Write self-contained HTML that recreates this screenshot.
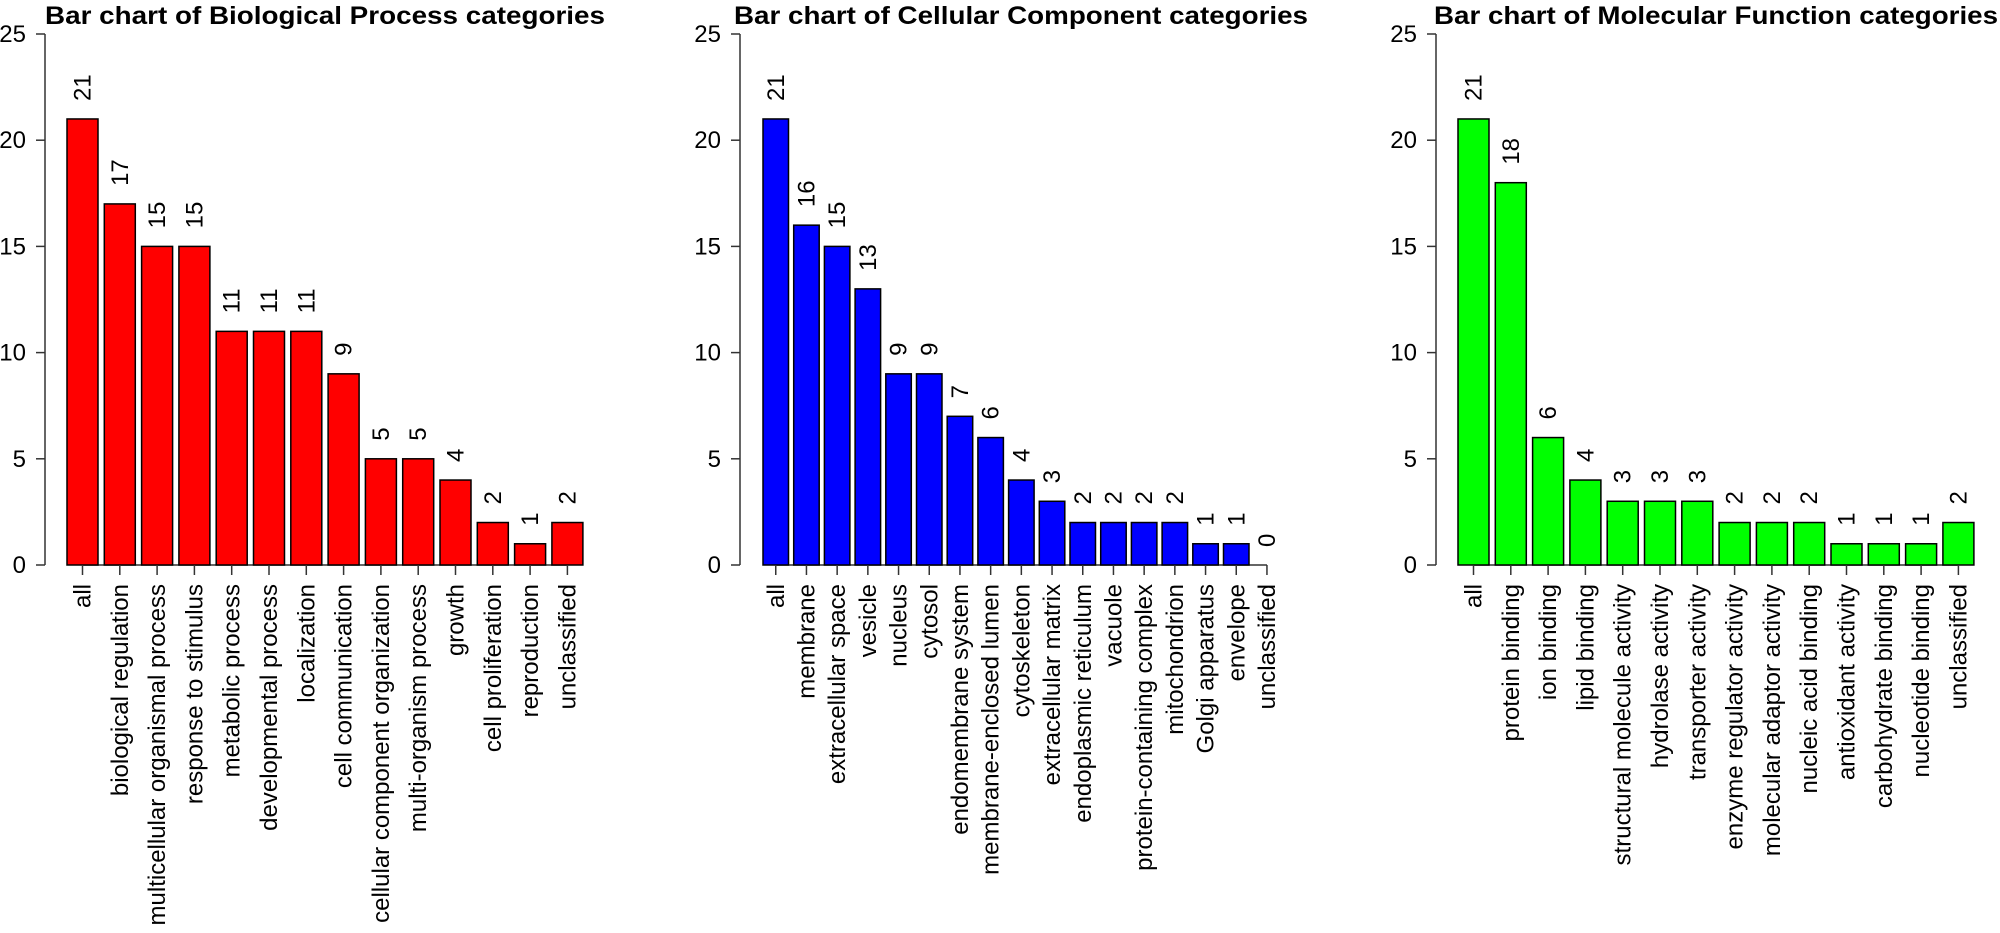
<!DOCTYPE html>
<html><head><meta charset="utf-8"><style>
html,body{margin:0;padding:0;background:#fff;}
svg{display:block;font-family:"Liberation Sans",Arial,sans-serif;}
</style></head><body>
<svg id="chart" width="2000" height="933" viewBox="0 0 2000 933" xmlns="http://www.w3.org/2000/svg"></svg>
<script>
const bpCategories = ["all","biological regulation","multicellular organismal process","response to stimulus","metabolic process","developmental process","localization","cell communication","cellular component organization","multi-organism process","growth","cell proliferation","reproduction","unclassified"];
const bpValues = [21,17,15,15,11,11,11,9,5,5,4,2,1,2];
const ccCategories = ["all","membrane","extracellular space","vesicle","nucleus","cytosol","endomembrane system","membrane-enclosed lumen","cytoskeleton","extracellular matrix","endoplasmic reticulum","vacuole","protein-containing complex","mitochondrion","Golgi apparatus","envelope","unclassified"];
const ccValues = [21,16,15,13,9,9,7,6,4,3,2,2,2,2,1,1,0];
const mfCategories = ["all","protein binding","ion binding","lipid binding","structural molecule activity","hydrolase activity","transporter activity","enzyme regulator activity","molecular adaptor activity","nucleic acid binding","antioxidant activity","carbohydrate binding","nucleotide binding","unclassified"];
const mfValues = [21,18,6,4,3,3,3,2,2,2,1,1,1,2];
const yTicks = [0,5,10,15,20,25];
const titles = ["Bar chart of Biological Process categories","Bar chart of Cellular Component categories","Bar chart of Molecular Function categories"];

const svg = document.getElementById('chart');
const NS = 'http://www.w3.org/2000/svg';
function mk(tag, attrs, parent){const e=document.createElementNS(NS,tag);for(const k in attrs)e.setAttribute(k,attrs[k]);(parent||svg).appendChild(e);return e;}

const Y0 = 565, YTOP = 34, YMAX = 25, FS = 24;
function yScale(v){return Y0 - (Y0-YTOP)*v/YMAX;}

const panels = [
  {name:'biological-process', cats:bpCategories, vals:bpValues, axisX:45, firstX:67, pitch:37.3, width:31, color:'#ff0000', titleX:325, titleW:560},
  {name:'cellular-component', cats:ccCategories, vals:ccValues, axisX:740, firstX:763, pitch:30.7, width:25.5, color:'#0000ff', titleX:1021, titleW:574},
  {name:'molecular-function', cats:mfCategories, vals:mfValues, axisX:1436, firstX:1458, pitch:37.3, width:31, color:'#00ff00', titleX:1716, titleW:564}
];

panels.forEach((p, pi) => {
  const g = mk('g', {});
  
  
  const t = mk('text', {x:p.titleX, y:24, 'text-anchor':'middle', 'font-size':25, 'font-weight':'bold', textLength:p.titleW, lengthAdjust:'spacingAndGlyphs', fill:'#000'}, g);
  t.textContent = titles[pi];
  
  
  const ax = mk('line', {x1:p.axisX, x2:p.axisX, y1:yScale(yTicks[yTicks.length-1]), y2:yScale(yTicks[0]), stroke:'#333', 'stroke-width':1.5}, g);
  
  
  yTicks.forEach(v => {
    const y = yScale(v);
    const tk = mk('line', {x1:p.axisX-9, x2:p.axisX, y1:y, y2:y, stroke:'#333', 'stroke-width':1.5}, g);
    
    
    const tl = mk('text', {x:p.axisX-19, y:y+8, 'text-anchor':'end', 'font-size':FS, fill:'#000'}, g);
    tl.textContent = v;
    
    
  });
  const c0 = p.firstX + p.width/2, cN = p.firstX + (p.cats.length-1)*p.pitch + p.width/2;
  const xl = mk('line', {x1:c0, x2:cN, y1:Y0, y2:Y0, stroke:'#333', 'stroke-width':1.5}, g);
  
  
  p.cats.forEach((c, i) => {
    const x = p.firstX + i*p.pitch, v = p.vals[i], cx = x + p.width/2;
    const yTop = yScale(v);
    const b = mk('rect', {x:x, y:yTop, width:p.width, height:Y0-yTop, fill:p.color, stroke:'#000', 'stroke-width':1.5}, g);
    
    
    const vl = mk('text', {x:0, y:0, 'text-anchor':'start', 'font-size':FS, fill:'#000', transform:`translate(${cx+8},${yTop-18}) rotate(-90)`}, g);
    vl.textContent = v;
    
    
    const tk = mk('line', {x1:cx, x2:cx, y1:Y0, y2:Y0+10, stroke:'#333', 'stroke-width':1.5}, g);
    
    
    const cl = mk('text', {x:0, y:0, 'text-anchor':'end', 'font-size':FS, fill:'#000', transform:`translate(${cx+8},${Y0+19}) rotate(-90)`}, g);
    cl.textContent = c;
    
    
  });
});
</script>
</body></html>
